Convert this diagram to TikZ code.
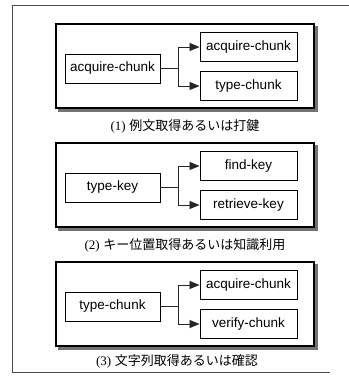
\documentclass[tikz,border=0pt]{standalone}
\usepackage{fontspec}
\setmainfont{Liberation Sans}
\newfontfamily\jpfont{Noto Sans CJK JP}
\newfontfamily\capserif{Liberation Serif}
\usetikzlibrary{arrows.meta}
\tikzset{
  chunkbox/.style={draw=black, line width=0.9pt, fill=white, minimum height=29pt,
    inner sep=0pt, font=\fontsize{13.5}{15}\selectfont},
  srcbox/.style={chunkbox, minimum width=95pt},
  tgtbox/.style={chunkbox, minimum width=97pt},
  panelbox/.style={draw=black, line width=2pt, fill=white},
  shadowbox/.style={fill=black!55, draw=none},
  link/.style={draw=black!85, line width=0.8pt},
  arr/.style={link, -{Triangle[length=10pt,width=8pt]}},
  caption/.style={font=\fontsize{13}{15}\selectfont, inner sep=0pt},
  frame/.style={draw=black!70, line width=0.9pt},
}
\begin{document}
\begin{tikzpicture}[x=1pt,y=-1pt]
\useasboundingbox (0,0) rectangle (349,376);
% outer frame
\draw[frame] (349,5) -- (12,5) -- (12,372) -- (330,372);

% panel 1
\fill[shadowbox] (58,26) rectangle (318,112);
\draw[panelbox] (56,24) rectangle (314,108);
\node[srcbox] (s1) at (112.5,68.5) {acquire-chunk};
\node[tgtbox] (t1a) at (248.5,47) {acquire-chunk};
\node[tgtbox] (t1b) at (248.5,86) {type-chunk};
\coordinate (j1) at (178,68.5);
\draw[link] (s1.east) -- (j1);
\draw[arr] (j1) |- (t1a.west);
\draw[arr] (j1) |- (t1b.west);
\node[caption] (c1) at (185,126) {{\capserif (1)} \jpfont 例文取得あるいは打鍵};

% panel 2
\begin{scope}[shift={(0,119)}]
\fill[shadowbox] (58,26) rectangle (318,112);
\draw[panelbox] (56,24) rectangle (314,108);
\node[srcbox] (s2) at (112.5,68.5) {type-key};
\node[tgtbox] (t2a) at (248.5,47) {find-key};
\node[tgtbox] (t2b) at (248.5,86) {retrieve-key};
\coordinate (j2) at (178,68.5);
\draw[link] (s2.east) -- (j2);
\draw[arr] (j2) |- (t2a.west);
\draw[arr] (j2) |- (t2b.west);
\node[caption] (c2) at (185,126) {{\capserif (2)} \jpfont キー位置取得あるいは知識利用};
\end{scope}

% panel 3
\begin{scope}[shift={(0,238)}]
\fill[shadowbox] (58,26) rectangle (318,112);
\draw[panelbox] (56,24) rectangle (314,108);
\node[srcbox] (s3) at (112.5,68.5) {type-chunk};
\node[tgtbox] (t3a) at (248.5,47) {acquire-chunk};
\node[tgtbox] (t3b) at (248.5,86) {verify-chunk};
\coordinate (j3) at (178,68.5);
\draw[link] (s3.east) -- (j3);
\draw[arr] (j3) |- (t3a.west);
\draw[arr] (j3) |- (t3b.west);
\node[caption] (c3) at (177,123) {{\capserif (3)} \jpfont 文字列取得あるいは確認};
\end{scope}
\end{tikzpicture}
\end{document}
